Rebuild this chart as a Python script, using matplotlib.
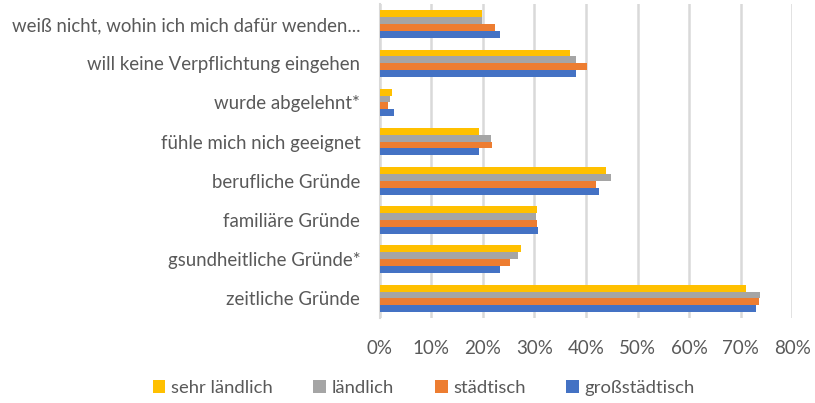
import numpy as np
import matplotlib.pyplot as plt
from matplotlib.ticker import PercentFormatter

# categories from bottom to top
categories = ["zeitliche Gründe", "gsundheitliche Gründe*", "familiäre Gründe",
              "berufliche Gründe", "fühle mich nich geeignet", "wurde abgelehnt*",
              "will keine Verpflichtung eingehen", "weiß nicht, wohin ich mich dafür wenden..."]

sehr_laendlich = [0.710, 0.273, 0.305, 0.439, 0.192, 0.024, 0.369, 0.199]
laendlich = [0.737, 0.268, 0.303, 0.448, 0.215, 0.019, 0.381, 0.199]
staedtisch = [0.735, 0.253, 0.305, 0.419, 0.218, 0.016, 0.401, 0.224]
grossstaedtisch = [0.729, 0.234, 0.306, 0.426, 0.193, 0.028, 0.381, 0.234]

series = [("sehr ländlich", sehr_laendlich, "#FFC000"),
          ("ländlich", laendlich, "#A5A5A5"),
          ("städtisch", staedtisch, "#ED7D31"),
          ("großstädtisch", grossstaedtisch, "#4472C4")]

plt.rcParams['font.family'] = ['Lato', 'DejaVu Sans']
text_col = "#595959"

fig = plt.figure(figsize=(8.15, 4.03), dpi=100)
ax = fig.add_axes([0.466, 0.211, 0.506, 0.778])

y = np.arange(len(categories))
h = 0.175
offsets = [1.5, 0.5, -0.5, -1.5]
for (name, vals, col), off in zip(series, offsets):
    ax.barh(y + off * h, vals, height=h, color=col, label=name, zorder=3)

ax.set_xlim(0, 0.8)
ax.set_ylim(-0.5, len(categories) - 0.5)
ax.set_xticks(np.arange(0, 0.81, 0.1))
ax.xaxis.set_major_formatter(PercentFormatter(1.0, decimals=0))
ax.set_yticks(y)
ax.set_yticklabels(categories)
ax.grid(axis="x", color="#D9D9D9", linewidth=1.8, zorder=0)
for s in ["top", "right", "bottom"]:
    ax.spines[s].set_visible(False)
ax.spines["left"].set_color("#D9D9D9")
ax.spines["left"].set_linewidth(1.5)
ax.tick_params(axis="x", length=0, pad=16, labelsize=13.5, labelcolor=text_col)
ax.tick_params(axis="y", length=0, pad=14, labelsize=13.4, labelcolor=text_col)

leg = fig.legend(loc="center", bbox_to_anchor=(0.52, 0.038), ncol=4, frameon=False,
                 fontsize=13.3, handlelength=0.7, handleheight=0.7, handletextpad=0.3,
                 columnspacing=2.2, labelcolor=text_col)

fig.savefig("out.png", dpi=100)
